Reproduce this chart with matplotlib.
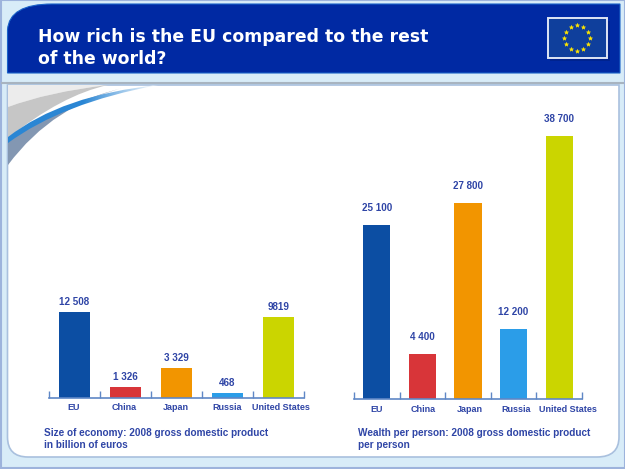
import numpy as np
import matplotlib
matplotlib.use("Agg")
import matplotlib.pyplot as plt
from matplotlib.colors import LinearSegmentedColormap
from matplotlib.patches import PathPatch, Rectangle
from matplotlib.path import Path

W, H = 625, 469

countries = ["EU", "China", "Japan", "Russia", "United States"]
bar_colors = ["#0c4ea3", "#d83539", "#f29500", "#2b9de8", "#cbd500"]

# bars in the original are not to scale with their labels, so heights are read off the picture
size_heights = [12508, 1600, 4360, 680, 11780]
size_labels = ["12 508", "1 326", "3 329", "468", "9819"]
wealth_heights = [25600, 6620, 28850, 10300, 38700]
wealth_labels = ["25 100", "4 400", "27 800", "12 200", "38 700"]

TEXT_BLUE = "#2f45a6"
AXIS_BLUE = "#5f87c6"

plt.rcParams["font.family"] = ["Liberation Sans", "DejaVu Sans"]

fig = plt.figure(figsize=(W / 100, H / 100), dpi=100, facecolor="#d8ecf8")


def px_axes(x0, y0, x1, y1):
    # y0 is the top edge, all in image pixels
    return fig.add_axes([x0 / W, 1 - y1 / H, (x1 - x0) / W, (y1 - y0) / H])


def curved(points):
    # quadratic outline: start, then (ctrl, end) pairs, closed at the end
    codes = [Path.MOVETO] + [Path.CURVE3] * (len(points) - 1)
    return Path(points + [points[0]], codes + [Path.CLOSEPOLY])


# background frame, header, panel
bg = px_axes(0, 0, W, H)
bg.axis("off")

bg.add_patch(Rectangle((0.5, 0.5), W - 1, H - 1, fc="none", ec="#9db3dc", lw=1.5))

panel = Path([(7.5, 85), (619, 85), (619, 437), (619, 457), (597, 457), (28, 457),
              (7.5, 457), (7.5, 437), (7.5, 85), (7.5, 85)],
             [Path.MOVETO, Path.LINETO, Path.LINETO, Path.CURVE3, Path.CURVE3,
              Path.LINETO, Path.CURVE3, Path.CURVE3, Path.LINETO, Path.CLOSEPOLY])
bg.add_patch(PathPatch(panel, fc="white", ec="#a9c0de", lw=1.2))
bg.plot([2, 623], [83.5, 83.5], color="#a8b4c0", lw=1.5)

header = Path([(7.5, 73), (7.5, 30), (9, 4), (52, 4), (620, 4), (620, 73), (7.5, 73)],
              [Path.MOVETO, Path.LINETO, Path.CURVE3, Path.CURVE3, Path.LINETO,
               Path.LINETO, Path.CLOSEPOLY])
bg.add_patch(PathPatch(header, fc="#0029a3", ec="#1a62c8", lw=0.8))

bg.text(38, 37, "How rich is the EU compared to the rest", color="white", family="DejaVu Sans",
        weight="bold", fontsize=12.45, va="center", ha="left")
bg.text(38, 59, "of the world?", color="white", family="DejaVu Sans",
        weight="bold", fontsize=12.45, va="center", ha="left")

# flag
bg.add_patch(Rectangle((550, 21), 60, 40, fc="#001a70", ec="none", alpha=0.4))
bg.add_patch(Rectangle((547.5, 18.5), 59.5, 39.5, fc="#0f3f9c", ec="#dfe6f5", lw=1.4))
ang = np.arange(12) * np.pi / 6
bg.scatter(577 + 12.7 * np.sin(ang), 38 + 12.7 * np.cos(ang), s=9, marker="*",
           color="#ffe600", linewidths=0.4)

# swoosh in the top left corner
bg.add_patch(PathPatch(curved([(8, 85), (8, 85), (108, 85), (48, 92), (8, 107)]),
                       fc="#ececec", ec="none"))
bg.add_patch(PathPatch(curved([(8, 107), (48, 92), (108, 85), (62, 95), (8, 138)]),
                       fc="#c6c6c6", ec="none"))
bg.add_patch(PathPatch(curved([(8, 142), (60, 103), (130, 86), (53, 104), (8, 165)]),
                       fc="#8397b2", ec="none"))
fade = LinearSegmentedColormap.from_list("fade", ["#2a86d4", "#2a86d4", "#ffffff"])
blue_path = curved([(8, 137), (62, 95), (158, 85), (62, 103), (8, 143)])
blue_img = bg.imshow(np.linspace(0, 1, 150)[None, :], extent=(8, 158, 143, 85), cmap=fade,
                     aspect="auto", zorder=2)
blue_img.set_clip_path(PathPatch(blue_path, transform=bg.transData))
bg.set_xlim(0, W)
bg.set_ylim(H, 0)


def draw_bars(ax, heights, labels, colors, ymax, value_gap, name_dx):
    x = np.arange(len(countries))
    ax.bar(x, heights, width=0.6, color=colors, linewidth=0)
    ax.set_xlim(-0.5, len(countries) - 0.5)
    ax.set_ylim(0, ymax)
    ax.patch.set_alpha(0)
    for side in ["top", "left", "right"]:
        ax.spines[side].set_visible(False)
    ax.spines["bottom"].set_color(AXIS_BLUE)
    ax.spines["bottom"].set_linewidth(1.2)
    ax.set_yticks([])
    ax.set_xticks(np.arange(len(countries) + 1) - 0.5)
    ax.set_xticklabels([])
    ax.tick_params(axis="x", direction="in", length=5, width=1, color=AXIS_BLUE)
    for xi, name, dx in zip(x, countries, name_dx):
        ax.annotate(name, (xi, 0), xytext=(dx, -7.2), textcoords="offset points",
                    ha="center", va="center", fontsize=6.5, weight="bold", color=TEXT_BLUE)
    for xi, h, lab in zip(x, heights, labels):
        ax.annotate(lab, (xi, h), xytext=(0, value_gap), textcoords="offset points",
                    ha="center", va="center", fontsize=7.1, weight="bold", color=TEXT_BLUE)


ax1 = px_axes(49, 112, 304, 398)
draw_bars(ax1, size_heights, size_labels, bar_colors, 12508 * 286 / 86, 7.4,
          [-0.4, -0.8, -0.4, -0.4, 1.5])

ax2 = px_axes(354, 112, 582, 399)
draw_bars(ax2, wealth_heights, wealth_labels, bar_colors, 38700 * 287 / 263, 12.3,
          [0, 0.7, 1.1, 1.5, 6.5])

# captions
bg.text(43.5, 433, "Size of economy: 2008 gross domestic product", color=TEXT_BLUE,
        weight="bold", fontsize=7.2, va="center")
bg.text(43.5, 445, "in billion of euros", color=TEXT_BLUE, weight="bold", fontsize=7.2, va="center")
bg.text(358.5, 432.5, "Wealth per person: 2008 gross domestic product", color=TEXT_BLUE,
        weight="bold", fontsize=7.2, va="center")
bg.text(358.5, 445, "per person", color=TEXT_BLUE, weight="bold", fontsize=7.2, va="center")

fig.savefig("out.png", dpi=100)
plt.close(fig)
